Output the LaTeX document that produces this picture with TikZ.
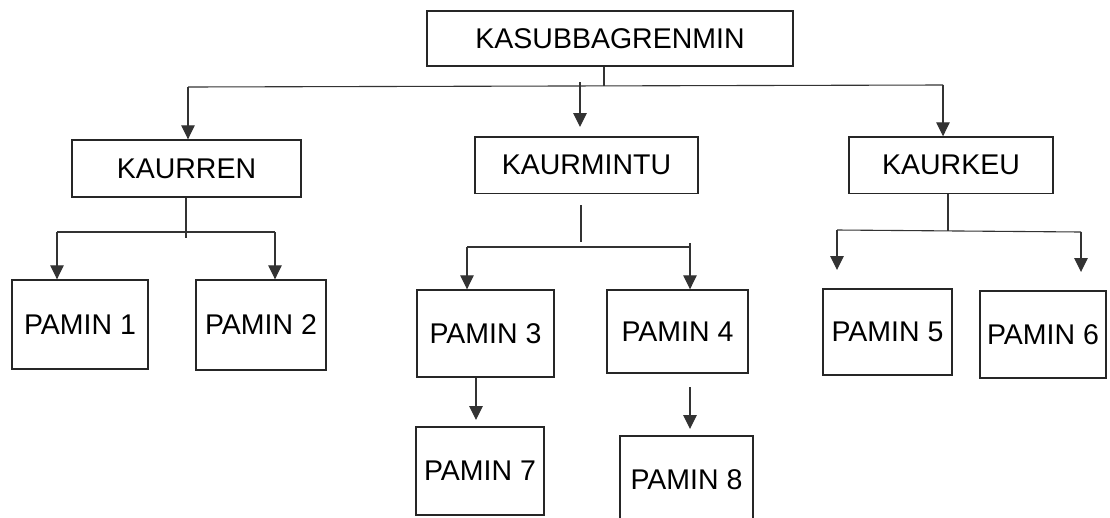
\documentclass[tikz,border=0pt]{standalone}
\usepackage{fontspec}
\setmainfont{Liberation Sans}
\usetikzlibrary{arrows.meta}
\begin{document}
\begin{tikzpicture}[x=1pt,y=-1pt,
  box/.style={draw=black!85,line width=1.4pt,inner sep=0pt,font=\fontsize{28.5}{34}\selectfont},
  conn/.style={draw=black!80,line width=1.1pt},
  arr/.style={conn,-{Triangle[width=13.5pt,length=14pt]}}]
\useasboundingbox (0,0) rectangle (1110,517);
\clip (0,0) rectangle (1110,517);
% boxes
\node[box,minimum width=366pt,minimum height=55pt] (top) at (610,38.5) {KASUBBAGRENMIN};
\node[box,minimum width=229pt,minimum height=57pt] (kaurren) at (186.5,168.5) {KAURREN};
\node[box,minimum width=223pt,minimum height=56.5pt] (kaurmintu) at (586.5,165.25) {KAURMINTU};
\node[box,minimum width=204pt,minimum height=56.5pt] (kaurkeu) at (951,165.25) {KAURKEU};
\node[box,minimum width=136pt,minimum height=89pt] (p1) at (80,324.5) {PAMIN 1};
\node[box,minimum width=130pt,minimum height=90pt] (p2) at (261,325) {PAMIN 2};
\node[box,minimum width=137pt,minimum height=87pt] (p3) at (485.5,333.5) {PAMIN 3};
\node[box,minimum width=141pt,minimum height=83pt] (p4) at (677.5,331.5) {PAMIN 4};
\node[box,minimum width=129pt,minimum height=86pt] (p5) at (887.5,332) {PAMIN 5};
\node[box,minimum width=126pt,minimum height=87pt] (p6) at (1043,334.5) {PAMIN 6};
\node[box,minimum width=128pt,minimum height=88pt] (p7) at (480,471) {PAMIN 7};
\node[box,minimum width=133pt,minimum height=87pt] (p8) at (686.5,479.5) {PAMIN 8};
% level 1 connectors
\coordinate (j0) at (604,86);
\coordinate (h0l) at (188,87);
\coordinate (h0r) at (943,85);
\coordinate (m0s) at (580,82);
\coordinate (m0e) at (580,127);
\draw[conn] (top.south -| j0) -- (j0);
\draw[conn] (h0l) -- (h0r);
\draw[arr] (h0l) -- (kaurren.north -| h0l);
\draw[arr] (h0r) -- (kaurkeu.north -| h0r);
\draw[arr] (m0s) -- (m0e);
% KAURREN
\coordinate (j1) at (186,238);
\coordinate (h1l) at (57,232);
\coordinate (h1r) at (275,232);
\draw[conn] (kaurren.south -| j1) -- (j1);
\draw[conn] (h1l) -- (h1r);
\draw[arr] (h1l) -- (p1.north -| h1l);
\draw[arr] (h1r) -- (p2.north -| h1r);
% KAURMINTU
\coordinate (j2s) at (581,205);
\coordinate (j2e) at (581,242);
\coordinate (h2l) at (467,247);
\coordinate (h2r) at (690,247);
\coordinate (h2t) at (690,243);
\draw[conn] (j2s) -- (j2e);
\draw[conn] (h2l) -- (h2r) -- (h2t);
\draw[arr] (h2l) -- (p3.north -| h2l);
\draw[arr] (h2r) -- (p4.north -| h2r);
% KAURKEU
\coordinate (j3) at (948,231);
\coordinate (h3l) at (837,230);
\coordinate (h3r) at (1081,232);
\coordinate (a5) at (837,270);
\coordinate (a6) at (1081,272);
\draw[conn] (kaurkeu.south -| j3) -- (j3);
\draw[conn] (h3l) -- (h3r);
\draw[arr] (h3l) -- (a5);
\draw[arr] (h3r) -- (a6);
% PAMIN 3 -> 7, PAMIN 4 -> 8
\coordinate (a7) at (476,420);
\coordinate (a8s) at (690,387);
\coordinate (a8e) at (690,429);
\draw[arr] (p3.south -| a7) -- (a7);
\draw[arr] (a8s) -- (a8e);
\end{tikzpicture}
\end{document}
